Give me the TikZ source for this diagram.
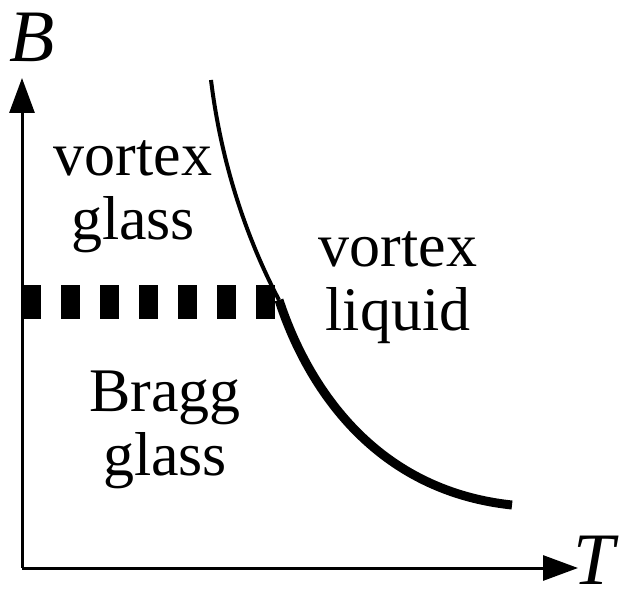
\documentclass[tikz,border=0pt]{standalone}
\usepackage{fontspec}
\setmainfont{Liberation Serif}
\usetikzlibrary{arrows.meta}
\tikzset{
  eje/.style={line width=1.5pt, -{Triangle[length=17.5pt, width=12.5pt]}},
  fase/.style={font=\fontsize{31}{32}\selectfont, align=center, inner sep=0pt},
  etiq/.style={font=\fontsize{37}{37}\selectfont\itshape, inner sep=0pt}
}
\begin{document}
\begin{tikzpicture}[x=0.5pt, y=-0.5pt]
    \useasboundingbox (0,0) rectangle (621,593);
    % Ejes
    \coordinate (O) at (22,568);
    \coordinate (Bfin) at (22,78);
    \coordinate (Tfin) at (578,568);
    \draw[eje] (O) -- (Bfin);
    \draw[eje] (O) -- (Tfin);
    \node[etiq] (B) at (32,37) {B};
    \node[etiq] (T) at (594,560) {T};
    % Linea de transicion (a trozos)
    \coordinate (ini) at (22,302);
    \coordinate (cruce) at (277,302);
    \draw[line width=17pt, dash pattern=on 9.5pt off 10pt] (ini) -- (cruce);
    % Curva de fusion: parte fina y parte gruesa
    \coordinate (arriba) at (211,80);
    \coordinate (union) at (279,300);
    \coordinate (abajo) at (512,505);
    \draw[line width=2pt] (arriba) .. controls (222,170) and (250,245) .. (union);
    \draw[line width=4.5pt] (union) .. controls (305,380) and (370,490) .. (abajo);
    % Fases
    \node[fase] (vg) at (133,197) {vortex\\glass};
    \node[fase] (vl) at (398,288) {vortex\\liquid};
    \node[fase] (bg) at (165,430) {Bragg\\glass};
\end{tikzpicture}
\end{document}
